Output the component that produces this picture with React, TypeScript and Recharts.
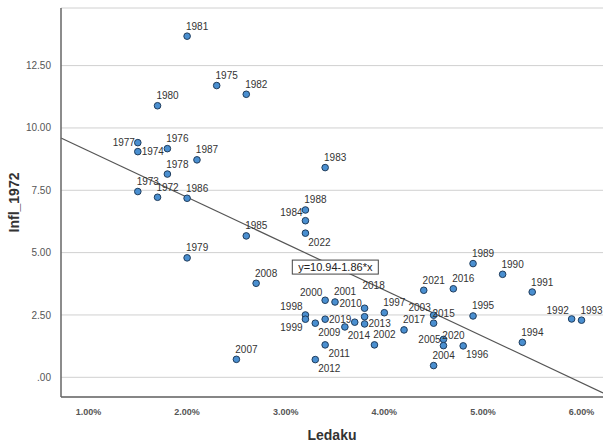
import {
  ScatterChart,
  Scatter,
  XAxis,
  YAxis,
  CartesianGrid,
  ReferenceLine,
  ReferenceDot,
} from 'recharts';

// Inflation (Infl_1972) vs. Ledaku (%), one point per year
const years = [
  1972, 1973, 1974, 1975, 1976, 1977, 1978, 1979, 1980, 1981,
  1982, 1983, 1984, 1985, 1986, 1987, 1988, 1989, 1990, 1991,
  1992, 1993, 1994, 1995, 1996, 1997, 1998, 1999, 2000, 2001,
  2002, 2003, 2004, 2005, 2006, 2007, 2008, 2009, 2010, 2011,
  2012, 2013, 2014, 2015, 2016, 2017, 2018, 2019, 2020, 2021, 2022,
];
const ledaku = [
  1.7, 1.5, 1.5, 2.3, 1.8, 1.5, 1.8, 2.0, 1.7, 2.0,
  2.6, 3.4, 3.2, 2.6, 2.0, 2.1, 3.2, 4.9, 5.2, 5.5,
  5.9, 6.0, 5.4, 4.9, 4.8, 4.0, 3.2, 3.2, 3.4, 3.5,
  3.9, 4.5, 4.5, 4.6, 3.7, 2.5, 2.7, 3.3, 3.8, 3.4,
  3.3, 3.8, 3.6, 4.5, 4.7, 4.2, 3.8, 3.4, 4.6, 4.4, 3.2,
];
const inflation = [
  7.22, 7.45, 9.05, 11.70, 9.17, 9.41, 8.15, 4.79, 10.89, 13.68,
  11.35, 8.41, 6.28, 5.67, 7.18, 8.72, 6.71, 4.56, 4.13, 3.42,
  2.34, 2.29, 1.40, 2.46, 1.26, 2.59, 2.50, 2.33, 3.09, 3.02,
  1.30, 2.49, 0.47, 1.52, 2.21, 0.72, 3.77, 2.17, 2.77, 1.30,
  0.71, 2.14, 2.02, 2.17, 3.55, 1.90, 2.43, 2.33, 1.27, 3.49, 5.78,
];

const xTicks = [1, 2, 3, 4, 5, 6];
const yTicks = [0, 2.5, 5, 7.5, 10, 12.5];

// fit line y = 10.94 - 1.86*x
const intercept = 10.94;
const slope = -1.86;

const X_DOMAIN: [number, number] = [0.721, 6.218];
const Y_DOMAIN: [number, number] = [-0.79, 14.81];

const points = years.map((year, i) => ({ year, x: ledaku[i], y: inflation[i] }));

// where each year's label sits relative to its dot (default: upper right)
const labelSpot: Record<number, string> = {
  1974: 'r', 1977: 'l', 1984: 'ul', 1992: 'ul', 1996: 'lr', 1998: 'ul',
  1999: 'll', 2000: 'ul', 2003: 'ul', 2005: 'l', 2006: 'none', 2009: 'lr',
  2010: 'lu', 2011: 'lr', 2012: 'lr', 2013: 'r', 2014: 'lr', 2018: 'up',
  2019: 'r', 2022: 'lr',
};
const spotOffset: Record<string, [number, number]> = {
  ur: [10, -10],
  ul: [-14, -8],
  lr: [14, 9],
  ll: [-14, 8],
  l: [-14, 0],
  lu: [-14, -5],
  r: [15, 0],
  up: [9, -31],
};

const FONT = '"Liberation Sans", Arial, sans-serif';

const renderPoint = (props: any) => {
  const { cx, cy, payload } = props;
  const spot = labelSpot[payload.year] ?? 'ur';
  const off = spotOffset[spot];
  return (
    <g>
      <circle cx={cx} cy={cy} r={3.3} fill="#4a8fd0" stroke="#1f3c5c" strokeWidth={1} />
      {off && (
        <text
          x={cx + off[0]}
          y={cy + off[1]}
          dy="0.35em"
          textAnchor="middle"
          fontSize={10}
          fontFamily={FONT}
          fill="#333"
        >
          {payload.year}
        </text>
      )}
    </g>
  );
};

const renderEquation = (props: any) => {
  const { cx, cy } = props;
  return (
    <g>
      <rect x={cx - 43} y={cy - 7} width={86} height={14} fill="#fff" stroke="#444" strokeWidth={1} />
      <text x={cx} y={cy} dy="0.35em" textAnchor="middle" fontSize={11} fontFamily={FONT} fill="#222">
        y=10.94-1.86*x
      </text>
    </g>
  );
};

export default function App() {
  return (
    <div style={{ position: 'absolute', left: 0, top: 0, width: 603, height: 443, background: '#fff' }}>
      <ScatterChart width={603} height={443} margin={{ top: 8, right: 0, bottom: 0, left: 0 }}>
        <CartesianGrid vertical={false} stroke="#d0d0d0" />
        <XAxis
          type="number"
          dataKey="x"
          domain={X_DOMAIN}
          ticks={xTicks}
          allowDataOverflow
          height={46}
          tickFormatter={(v: number) => `${v.toFixed(2)}%`}
          tick={{ fill: '#555', fontSize: 9, fontWeight: 600, fontFamily: FONT }}
          tickLine={false}
          axisLine={{ stroke: '#666', strokeWidth: 1.5 }}
          tickMargin={6}
          label={{
            value: 'Ledaku',
            position: 'insideBottom',
            offset: 3,
            fill: '#333',
            fontSize: 14,
            fontWeight: 700,
            fontFamily: FONT,
          }}
        />
        <YAxis
          type="number"
          dataKey="y"
          domain={Y_DOMAIN}
          ticks={yTicks}
          allowDataOverflow
          width={61}
          tickFormatter={(v: number) => (v === 0 ? '.00' : v.toFixed(2))}
          tick={{ fill: '#555', fontSize: 10, fontFamily: FONT }}
          tickLine={false}
          axisLine={{ stroke: '#666', strokeWidth: 1.5 }}
          tickMargin={4}
          label={{
            value: 'Infl_1972',
            angle: -90,
            position: 'insideLeft',
            offset: 14,
            style: { textAnchor: 'middle' },
            fill: '#333',
            fontSize: 14,
            fontWeight: 700,
            fontFamily: FONT,
          }}
        />
        <Scatter data={points} shape={renderPoint} isAnimationActive={false} />
        <ReferenceLine
          segment={[
            { x: X_DOMAIN[0], y: intercept + slope * X_DOMAIN[0] },
            { x: X_DOMAIN[1], y: intercept + slope * X_DOMAIN[1] },
          ]}
          stroke="#555"
          strokeWidth={1.2}
        />
        <ReferenceDot x={3.503} y={4.42} shape={renderEquation} />
      </ScatterChart>
    </div>
  );
}
